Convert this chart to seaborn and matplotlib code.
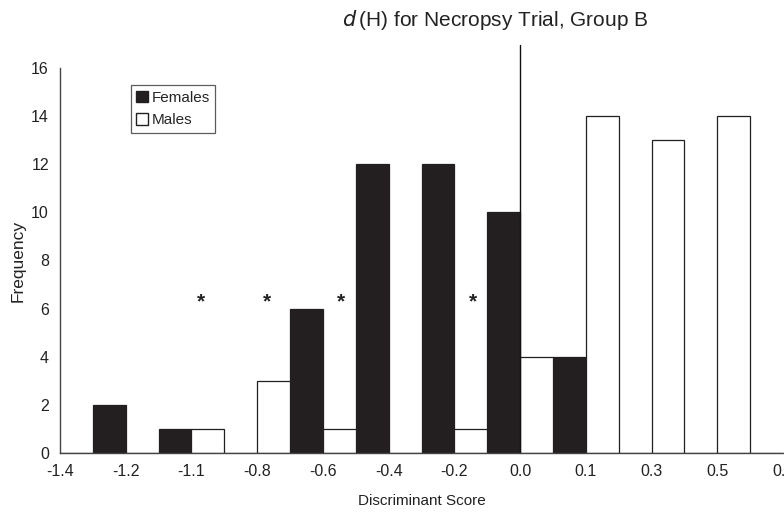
import matplotlib
matplotlib.use("Agg")
import matplotlib.pyplot as plt
import seaborn as sns
import pandas as pd
from matplotlib.patches import Patch

# ---- data ----
score_labels = ["-1.4", "-1.2", "-1.1", "-0.8", "-0.6", "-0.4", "-0.2", "0.0", "0.1", "0.3", "0.5", "0.7"]
females = [0, 2, 1, 0, 6, 12, 12, 10, 4, 0, 0, 0]
males = [0, 0, 1, 3, 1, 0, 1, 4, 14, 13, 14, 0]
star_x = [2.15, 3.15, 4.28, 6.28]
star_y = [6.3, 6.3, 6.3, 6.3]
ref_label = "0.0"

sns.set_style("white")
plt.rcParams["font.family"] = ["Liberation Sans", "DejaVu Sans"]

df = pd.DataFrame({
    "score": score_labels * 2,
    "freq": females + males,
    "sex": ["Females"] * len(females) + ["Males"] * len(males),
})

fig = plt.figure(figsize=(7.84, 5.12), dpi=100)
ax = fig.add_axes([60 / 784, 1 - 453 / 512, 723 / 784, 385 / 512])

ink = "#231f20"
sns.barplot(data=df, x="score", y="freq", hue="sex", order=score_labels,
            hue_order=["Females", "Males"],
            palette={"Females": ink, "Males": "white"},
            edgecolor=ink, linewidth=0.9, width=1.0, saturation=1,
            ax=ax, legend=False)

ax.set_xlim(0, len(score_labels) - 1)
ax.set_ylim(0, 16)
ax.set_yticks(range(0, 17, 2))
ax.set_xticks(range(len(score_labels)))
ax.set_xticklabels(score_labels)
for s in ["top", "right"]:
    ax.spines[s].set_visible(False)
for s in ["left", "bottom"]:
    ax.spines[s].set_color("#444444")
    ax.spines[s].set_linewidth(1.0)
ax.tick_params(axis="both", direction="out", length=4, width=1, color="#444444",
               labelsize=11.5, labelcolor="#222222", pad=4)
ax.set_xlabel("Discriminant Score", fontsize=11, color="#222222", labelpad=11)
ax.set_ylabel("Frequency", fontsize=12.5, color="#222222", labelpad=4)

# reference line at 0.0
xi = score_labels.index(ref_label)
ax.plot([xi, xi], [0, 16.95], color="#111111", lw=1.0, clip_on=False)

# asterisks
for sx, sy in zip(star_x, star_y):
    ax.text(sx, sy, "*", ha="center", va="center", fontsize=15,
            fontweight="bold", color="#222222")

handles = [Patch(facecolor=ink, edgecolor=ink, label="Females"),
           Patch(facecolor="white", edgecolor=ink, label="Males")]
leg = ax.legend(handles=handles, loc="upper left", bbox_to_anchor=(0.098, 0.955),
                borderaxespad=0, fancybox=False, frameon=True, fontsize=11,
                handlelength=0.8, handleheight=0.8, handletextpad=0.2,
                borderpad=0.35, labelspacing=0.55)
leg.get_frame().set_edgecolor("#333333")
leg.get_frame().set_linewidth(0.9)

fig.text(495 / 784, 1 - 20 / 512, r"$d\,$(H) for Necropsy Trial, Group B",
         ha="center", va="center", fontsize=15, color="#222222")

fig.savefig("out.png", dpi=100)
